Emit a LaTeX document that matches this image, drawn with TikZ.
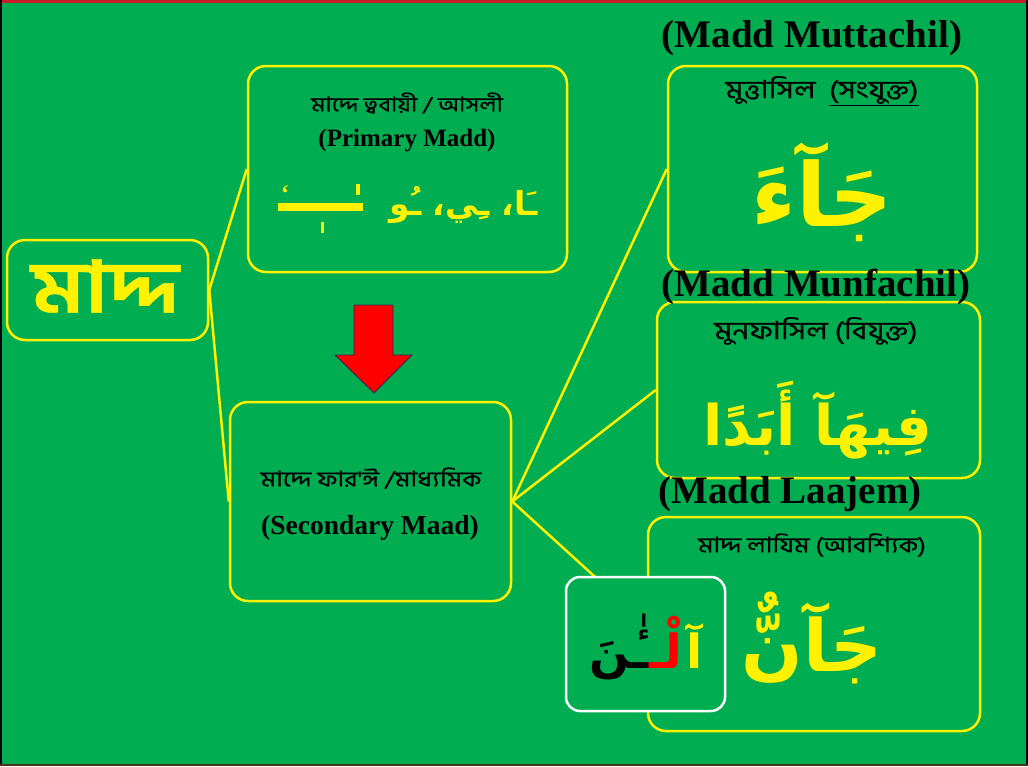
\documentclass[tikz,border=0pt]{standalone}
\usepackage{fontspec}
\setmainfont{Liberation Serif}
\newfontfamily\bnfont[Script=Bengali, FakeStretch=1.2, FakeBold=0.6]{Hind Siliguri}
\newfontfamily\arfont[Script=Arabic]{DejaVu Sans}
\TeXXeTstate=1
\definecolor{bggreen}{RGB}{0,173,80}
\definecolor{topred}{RGB}{200,30,40}
\definecolor{arrowedge}{RGB}{40,40,90}
\begin{document}
\begin{tikzpicture}[x=1pt,y=-1pt,
  box/.style={draw=yellow, line width=2.5pt, rounded corners=18pt, fill=bggreen, inner sep=0pt},
  whitebox/.style={draw=white, line width=2.5pt, rounded corners=14pt, fill=bggreen, inner sep=0pt},
  link/.style={draw=yellow, line width=2.5pt},
  bnlabel/.style={font=\bnfont\fontsize{20}{24}\selectfont, text=black, inner sep=0pt},
  entitle/.style={font=\bfseries\fontsize{25}{28}\selectfont, text=black, inner sep=0pt},
  bigtitle/.style={font=\bfseries\fontsize{39}{42}\selectfont, text=black, inner sep=0pt},
  artext/.style={text=yellow, inner sep=0pt},
  barmark/.style={fill=yellow, draw=none}]
\fill[bggreen] (0,0) rectangle (1028,766);
\useasboundingbox (0,0) rectangle (1028,766);
\fill[topred] (0,0) rectangle (1028,3);
\fill[black] (0,0) rectangle (2,766);
\fill[black] (1026,0) rectangle (1028,766);
\fill[black!60!brown] (0,764) rectangle (1028,766);

% boxes
\node[box, minimum width=201pt, minimum height=100pt] (madd) at (107.5,290) {};
\node[box, minimum width=319pt, minimum height=206pt] (prim) at (407.5,169) {};
\node[box, minimum width=281pt, minimum height=199pt] (sec) at (370.5,501.5) {};
\node[box, minimum width=309pt, minimum height=206pt] (mutt) at (822.5,169) {};
\node[box, minimum width=323pt, minimum height=176pt] (munf) at (818.5,390) {};
\node[box, minimum width=332pt, minimum height=214pt] (laaj) at (814,624) {};

% connectors
\draw[link] (madd.east) -- (prim.west);
\draw[link] (madd.east) -- (sec.west);
\draw[link] (sec.east) -- (mutt.west);
\draw[link] (sec.east) -- (munf.west);
\draw[link] (sec.east) -- (laaj.west);

\node[whitebox, minimum width=159pt, minimum height=134pt] (wbox) at (645.5,644) {};

% arrow
\filldraw[fill=red, draw=arrowedge, line width=0.8pt]
  (354,305) -- (393,305) -- (393,355) -- (412,355) -- (374,393) -- (335,355) -- (354,355) -- cycle;

% texts
\node[font=\bnfont\bfseries\fontsize{72}{80}\selectfont, text=yellow, inner sep=0pt] (maddtxt) at (105,286) {মাদ্দ};

\node[bnlabel] (primbn) at (407,103) {মাদ্দে ত্ববায়ী / আসলী};
\node[entitle] (primen) at (407,141) {(Primary Madd)};
\node[artext, font=\arfont\bfseries\fontsize{33}{40}\selectfont, anchor=east] (primar) at (538,205) {\beginR ـَا، ـِي، ـُو\endR};
% long bar with its marks
\fill[barmark] (278,203) rectangle (363,211);
\fill[barmark] (356,184) rectangle (359.5,195);
\fill[barmark] (320.5,222) rectangle (324,233);
\node[artext, font=\bfseries\fontsize{24}{26}\selectfont, inner sep=0pt] (primdamma) at (285,194) {‘};

\node[bnlabel, font=\bnfont\fontsize{21.5}{24}\selectfont] (secbn) at (371,478) {মাদ্দে ফার'ঈ /মাধ্যমিক};
\node[entitle, font=\bfseries\fontsize{27.5}{30}\selectfont] (secen) at (370,528) {(Secondary Maad)};

\node[bnlabel, font=\bnfont\fontsize{25}{28}\selectfont] (muttbn) at (822,91) {মুত্তাসিল\ \ \underline{(সংযুক্ত)}};
\node[artext, font=\arfont\bfseries\fontsize{88}{96}\selectfont] (muttar) at (822,192) {\beginR جَآءَ\endR};

\node[bnlabel, font=\bnfont\fontsize{25}{28}\selectfont] (munfbn) at (816,331) {মুনফাসিল (বিযুক্ত)};
\node[artext, font=\arfont\bfseries\fontsize{56}{62}\selectfont] (munfar) at (818,420) {\beginR فِيهَآ أَبَدًا\endR};

\node[bnlabel, font=\bnfont\fontsize{21.5}{24}\selectfont] (laajbn) at (812,545) {মাদ্দ লাযিম (আবশ্যিক)};
\node[artext, font=\arfont\bfseries\fontsize{72}{80}\selectfont] (laajar) at (812,638) {\beginR جَآنٌّ\endR};

\node[font=\arfont\bfseries\fontsize{47}{54}\selectfont, text=yellow, inner sep=0pt, anchor=base east] (wa) at (703,668) {\beginR آ\endR};
\node[font=\arfont\bfseries\fontsize{47}{54}\selectfont, text=red, inner sep=0pt, anchor=base east] (wl) at ([xshift=-4pt]wa.base west) {\beginR لْـ\endR};
\node[font=\arfont\bfseries\fontsize{47}{54}\selectfont, text=black, inner sep=0pt, anchor=base east] (wn) at (wl.base west) {\beginR ـٰٔنَ\endR};

\node[bigtitle] (tmutt) at (812,38) {(Madd Muttachil)};
\node[bigtitle] (tmunf) at (816,287) {(Madd Munfachil)};
\node[bigtitle] (tlaaj) at (790,494) {(Madd Laajem)};
\end{tikzpicture}
\end{document}
